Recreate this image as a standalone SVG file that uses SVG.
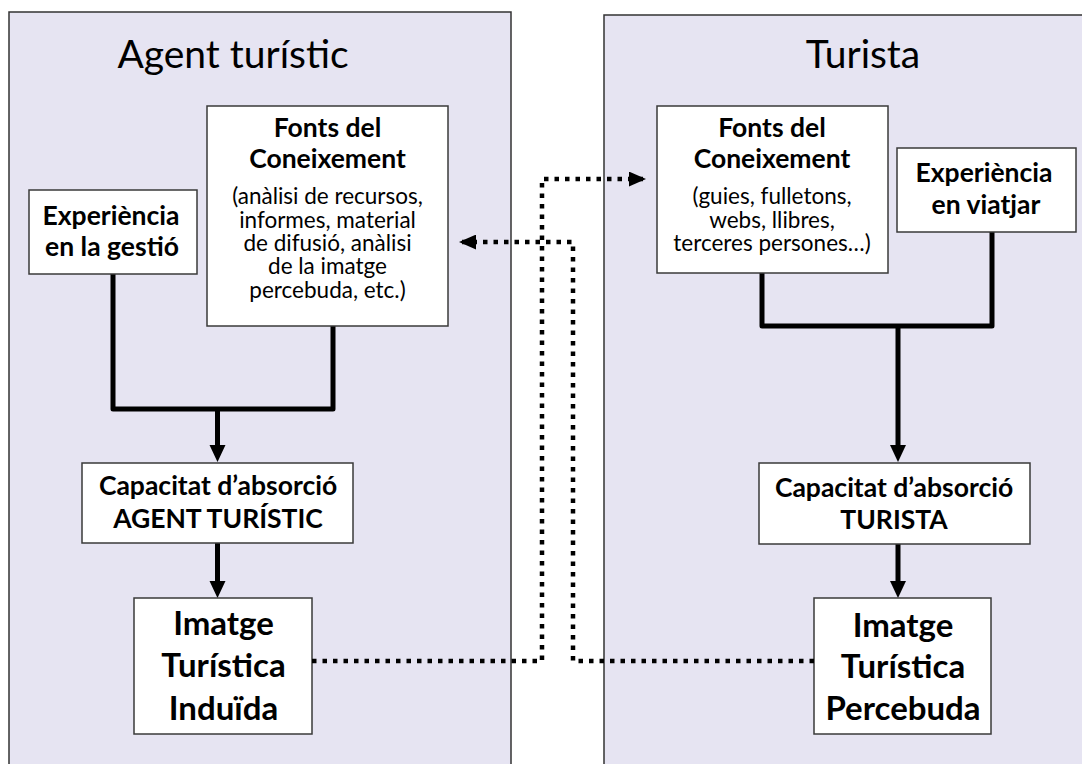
<svg xmlns="http://www.w3.org/2000/svg" width="1082" height="764" viewBox="0 0 1082 764">
  <defs>
    <marker id="arrowDot" viewBox="0 0 16 14" refX="16" refY="7" markerWidth="17" markerHeight="15" markerUnits="userSpaceOnUse" orient="auto">
      <path d="M0,0 L16,7 L0,14 Z" fill="#000"/>
    </marker>
    <style>
      .panel { fill: #e6e4f2; stroke: #333; stroke-width: 1.5; }
      .box { fill: #fff; stroke: #3a3a3a; stroke-width: 1.5; }
      .title { font-family: Lato, "Open Sans", sans-serif; font-size: 39px; fill: #000; text-anchor: middle; }
      .b { font-family: Lato, "Open Sans", sans-serif; font-weight: bold; font-size: 26.5px; fill: #000; text-anchor: middle; }
      .r { font-family: Lato, "Open Sans", sans-serif; font-size: 22.5px; fill: #000; text-anchor: middle; }
      .big { font-family: Lato, "Open Sans", sans-serif; font-weight: bold; font-size: 33px; fill: #000; text-anchor: middle; }
      .link { fill: none; stroke: #000; stroke-width: 5; stroke-linejoin: round; }
      .head { fill: #000; }
      .dot { fill: none; stroke: #000; stroke-width: 4.5; stroke-dasharray: 4.5 6; }
    </style>
  </defs>

  <!-- panels -->
  <g id="panel-agent">
    <rect class="panel" x="9" y="12" width="502" height="800"/>
    <text class="title" x="233" y="68">Agent turístic</text>
  </g>
  <g id="panel-turista">
    <rect class="panel" x="604" y="15" width="500" height="800"/>
    <text class="title" x="863" y="68">Turista</text>
  </g>

  <!-- solid connectors -->
  <g id="connectors">
    <path class="link" d="M113,274 V409 H333 V326"/>
    <path class="link" d="M217.5,409 V447"/>
    <path class="link" d="M217.5,543 V582"/>
    <path class="link" d="M762,273 V326 H992 V232"/>
    <path class="link" d="M898,326 V447"/>
    <path class="link" d="M898,544 V582"/>
    <path class="head" d="M209.5,445 L225.5,445 L217.5,462 Z"/>
    <path class="head" d="M209.5,581 L225.5,581 L217.5,598 Z"/>
    <path class="head" d="M890,445 L906,445 L898,462 Z"/>
    <path class="head" d="M890,581 L906,581 L898,598 Z"/>
  </g>

  <!-- Agent turístic nodes -->
  <g id="agent-experiencia">
    <rect class="box" x="29" y="190" width="168" height="84"/>
    <text class="b" x="111" y="225">Experiència</text>
    <text class="b" x="112" y="256">en la gestió</text>
  </g>
  <g id="agent-fonts">
    <rect class="box" x="207" y="106" width="241" height="220"/>
    <text class="b" x="327.5" y="137">Fonts del</text>
    <text class="b" x="327.5" y="168">Coneixement</text>
    <text class="r" x="327.5" y="204">(anàlisi de recursos,</text>
    <text class="r" x="327.5" y="227.5">informes, material</text>
    <text class="r" x="327.5" y="251">de difusió, anàlisi</text>
    <text class="r" x="327.5" y="274">de la imatge</text>
    <text class="r" x="327.5" y="297.5">percebuda, etc.)</text>
  </g>
  <g id="agent-capacitat">
    <rect class="box" x="82" y="463" width="271" height="80"/>
    <text class="b" x="218" y="495">Capacitat d’absorció</text>
    <text class="b" x="218" y="528">AGENT TURÍSTIC</text>
  </g>
  <g id="agent-imatge">
    <rect class="box" x="134" y="598" width="178" height="136"/>
    <text class="big" x="223.5" y="635">Imatge</text>
    <text class="big" x="223.5" y="677">Turística</text>
    <text class="big" x="223.5" y="720">Induïda</text>
  </g>

  <!-- Turista nodes -->
  <g id="turista-fonts">
    <rect class="box" x="657" y="106" width="231" height="167"/>
    <text class="b" x="772" y="137">Fonts del</text>
    <text class="b" x="772" y="168">Coneixement</text>
    <text class="r" x="772" y="204">(guies, fulletons,</text>
    <text class="r" x="772" y="227.5">webs, llibres,</text>
    <text class="r" x="772" y="251">terceres persones…)</text>
  </g>
  <g id="turista-experiencia">
    <rect class="box" x="897" y="148" width="179" height="84"/>
    <text class="b" x="984" y="182">Experiència</text>
    <text class="b" x="986" y="214">en viatjar</text>
  </g>
  <g id="turista-capacitat">
    <rect class="box" x="759" y="463" width="271" height="81"/>
    <text class="b" x="894" y="497">Capacitat d’absorció</text>
    <text class="b" x="894" y="529">TURISTA</text>
  </g>
  <g id="turista-imatge">
    <rect class="box" x="814" y="598" width="177" height="136"/>
    <text class="big" x="903" y="637">Imatge</text>
    <text class="big" x="903" y="678">Turística</text>
    <text class="big" x="903" y="720">Percebuda</text>
  </g>

  <!-- dotted feedback links between the two images and the knowledge sources -->
  <g id="dotted-connectors">
    <path class="dot" d="M312,661 H542 V179 H646" marker-end="url(#arrowDot)"/>
    <path class="dot" d="M814,661 H573 V242 H459" marker-end="url(#arrowDot)"/>
  </g>
</svg>
